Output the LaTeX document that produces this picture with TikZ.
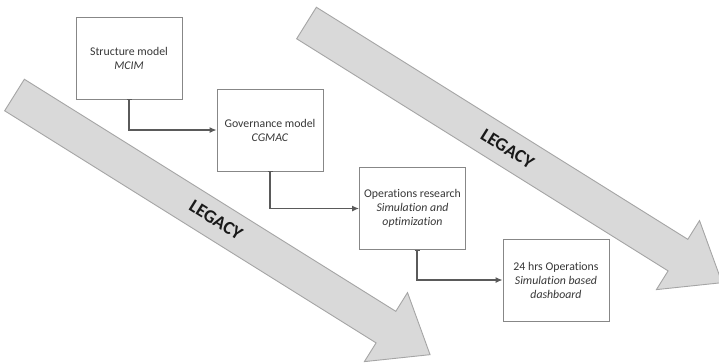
\documentclass[tikz,border=0pt]{standalone}
\usepackage{fontspec}
\setmainfont{Carlito}[Ligatures={NoCommon}]
\usetikzlibrary{arrows.meta}
\definecolor{boxline}{RGB}{135,135,135}
\definecolor{connline}{RGB}{90,90,90}
\definecolor{bigfill}{RGB}{217,217,217}
\definecolor{bigline}{RGB}{165,165,165}
\definecolor{txt}{RGB}{55,55,55}
\definecolor{legtxt}{RGB}{25,25,25}
\tikzset{
  stagebox/.style={draw=boxline, line width=0.9pt, fill=white, minimum width=106pt, minimum height=82pt,
    align=center, inner sep=2pt, text=txt, font=\fontsize{11.8}{14}\selectfont},
  conn/.style={draw=connline, line width=1.2pt, {Bar[width=5pt,line width=1pt]}-{Latex[length=7pt,width=6pt]}},
  bigarrow/.style={fill=bigfill, draw=bigline, line width=0.9pt, line join=miter},
  legacy/.style={text=legtxt, font=\bfseries\fontsize{18.5}{20}\selectfont, transform shape}
}
\begin{document}
\begin{tikzpicture}[x=1pt,y=-1pt]
\useasboundingbox[fill=white] (0,0) rectangle (719,362);
% big legacy arrows
\begin{scope}[shift={(14.5,95)}, rotate=-32]
  \draw[bigarrow] (0,-18.6) -- (438,-18.6) -- (438,-40.7) -- (490,0) -- (438,40.7) -- (438,18.6) -- (0,18.6) -- cycle;
  \node[legacy] (leg1) at (237,-1) {LEGACY};
\end{scope}
\begin{scope}[shift={(306.5,23)}, rotate=-32]
  \draw[bigarrow] (0,-18.6) -- (438,-18.6) -- (438,-40.7) -- (490,0) -- (438,40.7) -- (438,18.6) -- (0,18.6) -- cycle;
  \node[legacy] (leg2) at (237,0) {LEGACY};
\end{scope}
% boxes
\node[stagebox] (b1) at (129,58) {Structure model\\\textit{MCIM}};
\node[stagebox] (b2) at (270,130) {Governance model\\\textit{CGMAC}};
\node[stagebox] (b3) at (412.5,208.5) {Operations research\\\textit{Simulation and}\\\textit{optimization}};
\node[stagebox] (b4) at (556,280) {24 hrs Operations\\\textit{Simulation based}\\\textit{dashboard}};
% connectors
\draw[conn] (b1.south) |- (b2.west);
\draw[conn] (b2.south) |- (b3.west);
\draw[conn] ([xshift=4.5pt]b3.south) |- (b4.west);
\end{tikzpicture}
\end{document}
